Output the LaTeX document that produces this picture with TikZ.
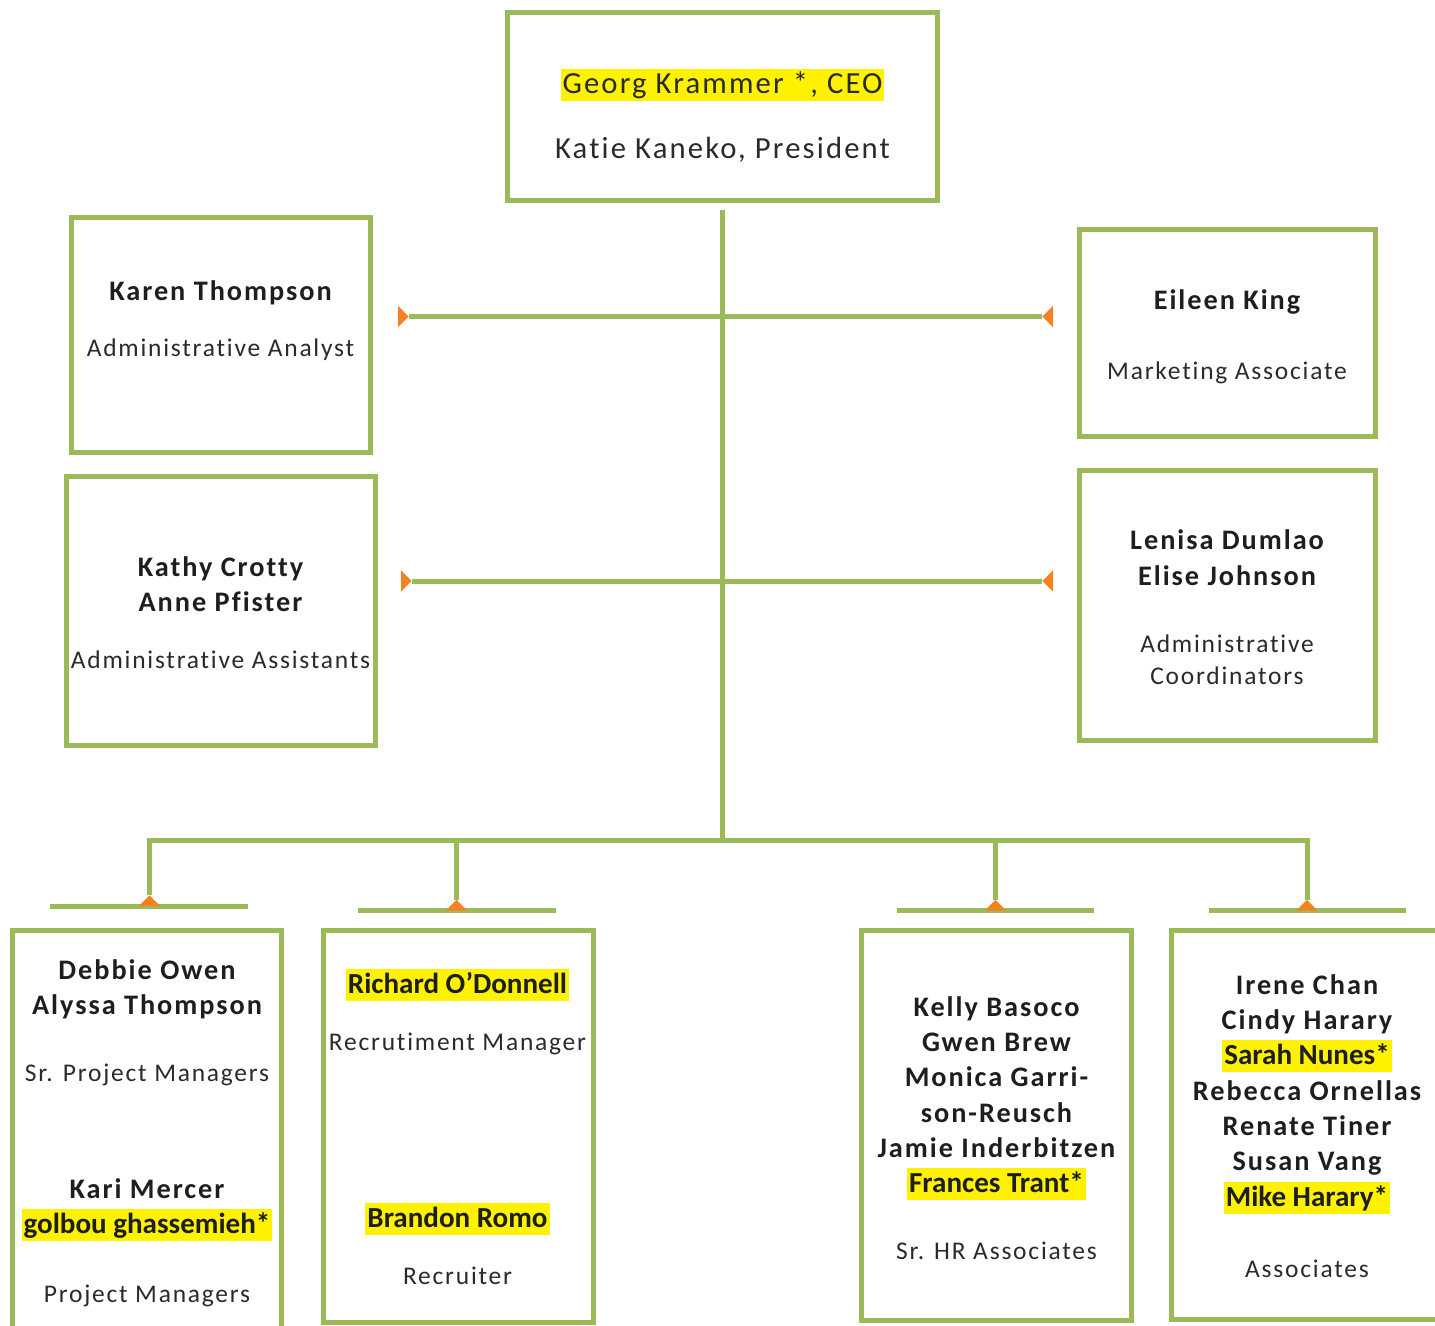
\documentclass[tikz,border=0pt]{standalone}
\usepackage{fontspec}
\setmainfont{Carlito}[Ligatures=NoCommon]
\newfontfamily\spc{Carlito}[LetterSpace=7,Ligatures=NoCommon]
\newfontfamily\plainf{Carlito}[Ligatures=NoCommon]
\usetikzlibrary{arrows.meta,fit}
\definecolor{grn}{HTML}{9BBB59}
\definecolor{org}{HTML}{F5821F}
\definecolor{hl}{HTML}{FFF200}
\definecolor{txt}{HTML}{2A2A2A}
\definecolor{nametxt}{HTML}{1E1E1E}
\tikzset{
  box/.style={draw=grn, line width=3.75pt, inner sep=0pt},
  conn/.style={draw=grn, line width=3.75pt},
  bus/.style={draw=grn, line width=3.75pt, line cap=rect},
  tipend/.style={-{Triangle[reversed,length=8pt,width=16pt,color=org,fill=org,line width=0pt]}},
  tipboth/.style={{Triangle[reversed,length=8pt,width=16pt,color=org,fill=org,line width=0pt]}-{Triangle[reversed,length=8pt,width=16pt,color=org,fill=org,line width=0pt]}},
  reg/.style={font=\spc\fontsize{19.1}{22}\selectfont, text=txt, inner sep=0pt, anchor=base},
  nm/.style={font=\spc\bfseries\fontsize{21.2}{24}\selectfont, text=nametxt, inner sep=0pt, anchor=base},
  hn/.style={font=\plainf\bfseries\fontsize{21.8}{25}\selectfont, text=nametxt, anchor=base, fill=hl, inner xsep=1.5pt, inner ysep=0pt, text height=18pt, text depth=6pt},
  toptxt/.style={font=\spc\fontsize{23}{26}\selectfont, text=txt, inner sep=0pt, anchor=base},
  tophl/.style={toptxt, fill=hl, inner xsep=1.5pt, inner ysep=0pt, text height=18pt, text depth=6pt},
}
\begin{document}
\begin{tikzpicture}[x=0.75pt,y=-0.75pt]
\useasboundingbox (0,0) rectangle (1435,1325);
% boxes
\node[box, fit={(507.5,12.5) (937.5,200.5)}] (ceo) {};
\node[box, fit={(71,217) (370,452)}] (karen) {};
\node[box, fit={(1079,229) (1375,436)}] (eileen) {};
\node[box, fit={(66,476) (375,745)}] (kathy) {};
\node[box, fit={(1079,470) (1375,740)}] (lenisa) {};
\node[box, fit={(12,930.5) (281.5,1345)}] (debbie) {};
\node[box, fit={(323.5,930.5) (593.5,1322.5)}] (richard) {};
\node[box, fit={(861.5,930.5) (1131.5,1320.5)}] (kelly) {};
\node[box, fit={(1171.5,930.5) (1450,1319.5)}] (irene) {};

% connector coordinates
\coordinate (trunkTop) at (722.5,210);
\coordinate (trunkBot) at (722.5,840);
\coordinate (l1) at (398,316.5);
\coordinate (r1) at (1053,316.5);
\coordinate (l2) at (401,581);
\coordinate (r2) at (1053,581);
\coordinate (bus1) at (149.5,840);
\coordinate (bus2) at (456.5,840);
\coordinate (bus3) at (995.5,840);
\coordinate (bus4) at (1307,840);
\coordinate (drop1) at (149.5,906);
\coordinate (drop2) at (456.5,910.5);
\coordinate (drop3) at (995.5,910.5);
\coordinate (drop4) at (1307,910.5);
\coordinate (bar1l) at (50,906);
\coordinate (bar1r) at (248,906);
\coordinate (bar2l) at (358,910.5);
\coordinate (bar2r) at (556,910.5);
\coordinate (bar3l) at (897,910.5);
\coordinate (bar3r) at (1094,910.5);
\coordinate (bar4l) at (1209,910.5);
\coordinate (bar4r) at (1406,910.5);

% connectors
\draw[conn] (trunkTop) -- (trunkBot);
\draw[conn, tipboth] (l1) -- (r1);
\draw[conn, tipboth] (l2) -- (r2);
\draw[bus] (bus1) -- (bus4);
\draw[conn] (bar1l) -- (bar1r);
\draw[conn] (bar2l) -- (bar2r);
\draw[conn] (bar3l) -- (bar3r);
\draw[conn] (bar4l) -- (bar4r);
\draw[conn, tipend] (bus1) -- (drop1);
\draw[conn, tipend] (bus2) -- (drop2);
\draw[conn, tipend] (bus3) -- (drop3);
\draw[conn, tipend] (bus4) -- (drop4);

% CEO
\node[tophl] (t1) at (722.5,93) {Georg Krammer *, CEO};
\node[toptxt] (t2) at (722.5,158) {Katie Kaneko, President};
% Karen
\node[nm] (k1) at (220.5,300) {Karen Thompson};
\node[reg] (k2) at (220.5,356) {Administrative Analyst};
% Eileen
\node[nm] (e1) at (1227,309) {Eileen King};
\node[reg] (e2) at (1227,379) {Marketing Associate};
% Kathy
\node[nm] (c1) at (220.5,576) {Kathy Crotty};
\node[nm] (c2) at (220.5,611) {Anne Pfister};
\node[reg] (c3) at (220.5,668) {Administrative Assistants};
% Lenisa
\node[nm] (n1) at (1227,549) {Lenisa Dumlao};
\node[nm] (n2) at (1227,585) {Elise Johnson};
\node[reg] (n3) at (1227,652) {Administrative};
\node[reg] (n4) at (1227,684) {Coordinators};
% Debbie
\node[nm] (d1) at (147,979) {Debbie Owen};
\node[nm] (d2) at (147,1014) {Alyssa Thompson};
\node[reg] (d3) at (147,1081) {Sr. Project Managers};
\node[nm] (d4) at (147,1198) {Kari Mercer};
\node[hn] (d5) at (147,1233) {golbou ghassemieh*};
\node[reg] (d6) at (147,1302) {Project Managers};
% Richard
\node[hn] (h1) at (457.5,993) {Richard O’Donnell};
\node[reg] (h2) at (457.5,1050) {Recrutiment Manager};
\node[hn] (h3) at (457.5,1227) {Brandon Romo};
\node[reg] (h4) at (457.5,1284) {Recruiter};
% Kelly
\node[nm] (y1) at (996.5,1016) {Kelly Basoco};
\node[nm] (y2) at (996.5,1051) {Gwen Brew};
\node[nm] (y3) at (996.5,1086) {Monica Garri-};
\node[nm] (y4) at (996.5,1122) {son-Reusch};
\node[nm] (y5) at (996.5,1157) {Jamie Inderbitzen};
\node[hn] (y6) at (996.5,1192) {Frances Trant*};
\node[reg] (y7) at (996.5,1259) {Sr. HR Associates};
% Irene
\node[nm] (i1) at (1307,994) {Irene Chan};
\node[nm] (i2) at (1307,1029) {Cindy Harary};
\node[hn] (i3) at (1307,1064) {Sarah Nunes*};
\node[nm] (i4) at (1307,1100) {Rebecca Ornellas};
\node[nm] (i5) at (1307,1135) {Renate Tiner};
\node[nm] (i6) at (1307,1170) {Susan Vang};
\node[hn] (i7) at (1307,1206) {Mike Harary*};
\node[reg] (i8) at (1307,1277) {Associates};
\end{tikzpicture}
\end{document}
